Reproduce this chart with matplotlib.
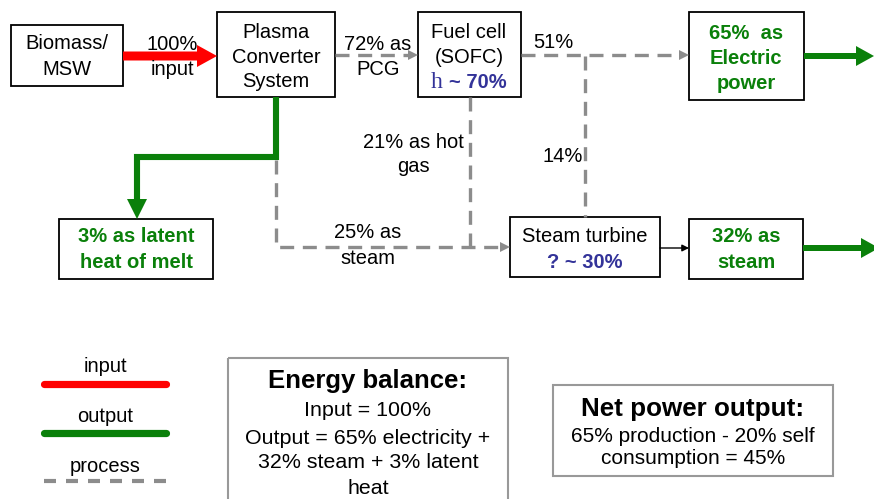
import matplotlib
matplotlib.use("Agg")
import matplotlib.pyplot as plt
from matplotlib.patches import Rectangle, FancyArrow, Polygon

plt.rcParams['font.family'] = ['Liberation Sans', 'DejaVu Sans']

# Energy flow values (%)
input_pct = 100
pcg_pct = 72
hot_gas_pct = 21
steam_pct = 25
latent_pct = 3
fc_power_pct = 51
fc_turbine_pct = 14
electric_pct = 65
steam_out_pct = 32
fc_eff = 70
st_eff = 30
self_use_pct = 20
net_pct = electric_pct - self_use_pct

legend_labels = ['input', 'output', 'process']

RED = '#ff0000'
GREEN = '#0a800a'
GREY = '#8c8c8c'
BLUE = '#333399'

fig = plt.figure(figsize=(8.74, 4.99), dpi=100)
ax = fig.add_axes([0, 0, 1, 1])
ax.set_xlim(0, 874)
ax.set_ylim(499, 0)
ax.axis('off')

FS = 14.5


def box(x0, y0, x1, y1, ec='black', lw=1.3):
    ax.add_patch(Rectangle((x0, y0), x1 - x0, y1 - y0, fill=False, ec=ec, lw=lw))


def txt(x, y, s, **kw):
    kw.setdefault('fontsize', FS)
    ax.text(x, y, s, ha='center', va='center', **kw)


def lines(x, ys, strs, **kw):
    for y, s in zip(ys, strs):
        txt(x, y, s, **kw)


def dashed(xs, ys, lw=2.4):
    ax.plot(xs, ys, color=GREY, lw=lw, linestyle=(0, (4.2, 2.6)), solid_capstyle='butt')


def head(tip, direction, size=10, color=GREY):
    x, y = tip
    if direction == 'right':
        pts = [(x, y), (x - size, y - size / 2), (x - size, y + size / 2)]
    else:  # down
        pts = [(x, y), (x - size / 2, y - size), (x + size / 2, y - size)]
    ax.add_patch(Polygon(pts, closed=True, color=color, lw=0))


# ---- boxes ----
box(11, 25, 123, 86)
lines(67, [43, 69], ['Biomass/', 'MSW'])

box(217, 12, 335, 97)
lines(276, [32, 57, 81], ['Plasma', 'Converter', 'System'])

box(418, 12, 521, 97)
lines(469, [32, 57], ['Fuel cell', '(SOFC)'])
ax.text(437, 82, 'h', ha='center', va='center', fontsize=17, color=BLUE,
        family=['Liberation Serif', 'DejaVu Serif'])
ax.text(449, 82, '~ %d%%' % fc_eff, ha='left', va='center', fontsize=FS,
        color=BLUE, fontweight='bold')

box(689, 12, 804, 100)
lines(746, [33, 58, 83], ['%d%%  as' % electric_pct, 'Electric', 'power'],
      color=GREEN, fontweight='bold')

box(510, 217, 660, 277)
txt(585, 236, 'Steam turbine')
txt(585, 262, '? ~ %d%%' % st_eff, color=BLUE, fontweight='bold')

box(689, 219, 803, 279)
lines(746, [237, 262], ['%d%% as' % steam_out_pct, 'steam'],
      color=GREEN, fontweight='bold')

box(59, 219, 213, 279)
lines(136, [237, 263], ['%d%% as latent' % latent_pct, 'heat of melt'],
      color=GREEN, fontweight='bold')

# ---- input arrow ----
ax.add_patch(FancyArrow(123, 56, 94, 0, width=9, head_width=22, head_length=20,
                        length_includes_head=True, color=RED, lw=0))
lines(172, [44, 69], ['%d%%' % input_pct, 'input'])

# ---- output arrows ----
ax.add_patch(FancyArrow(804, 56, 70, 0, width=6, head_width=20, head_length=18,
                        length_includes_head=True, color=GREEN, lw=0))
ax.add_patch(FancyArrow(803, 248, 76, 0, width=6, head_width=20, head_length=18,
                        length_includes_head=True, color=GREEN, lw=0))
ax.plot([276, 276, 137, 137], [97, 157, 157, 201], color=GREEN, lw=4.4,
        solid_joinstyle='miter', solid_capstyle='butt')
head((137, 219), 'down', size=20, color=GREEN)

# ---- process (dashed) flows ----
dashed([335, 408], [55, 55])
head((418, 55), 'right')
lines(378, [44, 69], ['%d%% as' % pcg_pct, 'PCG'])

dashed([521, 679], [55, 55])
head((689, 55), 'right')
txt(553, 42, '%d%%' % fc_power_pct)

dashed([585, 585], [56, 217])
txt(563, 157, '%d%%' % fc_turbine_pct)

dashed([470, 470], [97, 247])
lines(413, [142, 167], ['%d%% as hot' % hot_gas_pct, 'gas'])

dashed([276, 276, 500], [160, 247, 247])
head((510, 247), 'right')
lines(368, [233, 258], ['%d%% as' % steam_pct, 'steam'])

# thin black arrow turbine -> steam
ax.annotate('', xy=(689, 248), xytext=(660, 248),
            arrowprops=dict(arrowstyle='-|>', color='black', lw=1.0,
                            mutation_scale=10, shrinkA=0, shrinkB=0))

# ---- legend ----
leg_y = [384, 433, 481]
ax.plot([44, 166], [leg_y[0]] * 2, color=RED, lw=5.2, solid_capstyle='round')
ax.plot([44, 166], [leg_y[1]] * 2, color=GREEN, lw=5.2, solid_capstyle='round')
ax.plot([44, 166], [leg_y[2]] * 2, color=GREY, lw=3, linestyle=(0, (2.88, 2.4)),
        solid_capstyle='butt')
for lab, y in zip(legend_labels, [367, 417, 466]):
    txt(105, y, lab, fontsize=14.5)

# ---- energy balance ----
box(228, 358, 508, 510, ec='#999999', lw=1.5)
txt(368, 381, 'Energy balance:', fontsize=18.5, fontweight='bold')
lines(368, [410, 438, 463, 488],
      ['Input = %d%%' % input_pct,
       'Output = %d%% electricity +' % electric_pct,
       '%d%% steam + %d%% latent' % (steam_out_pct, latent_pct),
       'heat'], fontsize=15.4)

# ---- net power ----
box(553, 385, 833, 476, ec='#999999', lw=1.5)
txt(693, 409, 'Net power output:', fontsize=18.7, fontweight='bold')
lines(693, [436, 459],
      ['%d%% production - %d%% self' % (electric_pct, self_use_pct),
       'consumption = %d%%' % net_pct], fontsize=15)

fig.savefig('out.png', dpi=100)
